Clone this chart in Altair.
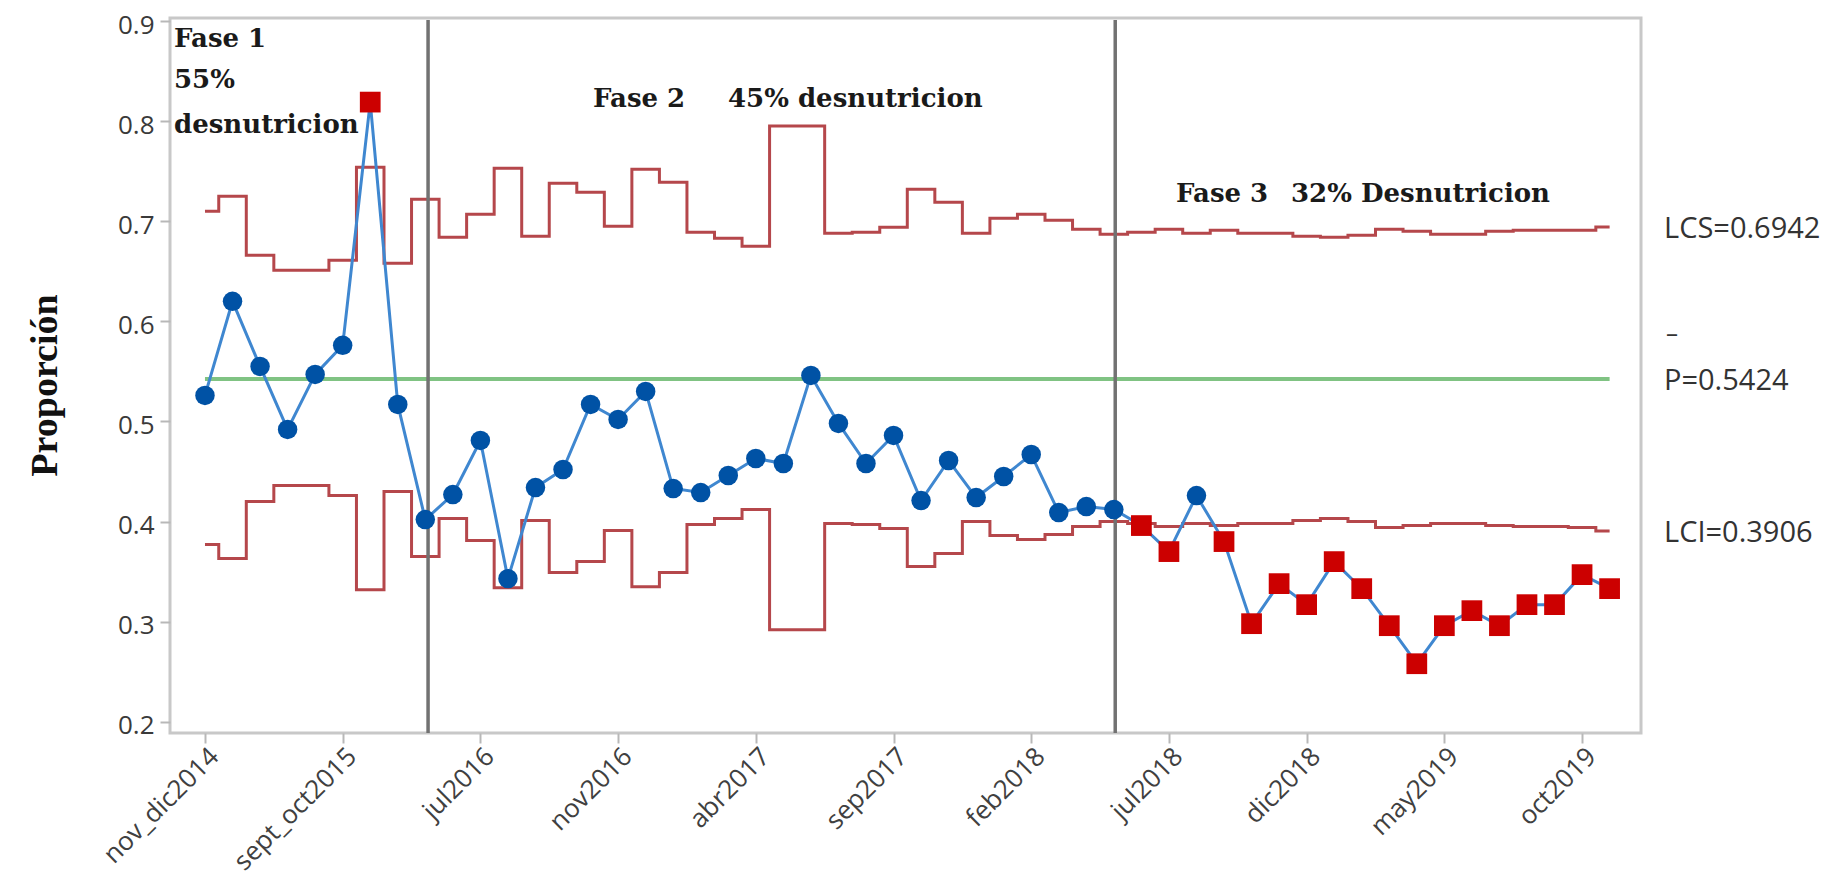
import altair as alt
import pandas as pd

# ---------------- data ----------------
indice = list(range(52))
proporcion = [0.526, 0.620, 0.555, 0.492, 0.547, 0.576, 0.819, 0.517, 0.402, 0.427,
              0.481, 0.343, 0.434, 0.452, 0.517, 0.502, 0.530, 0.433, 0.429, 0.446,
              0.463, 0.458, 0.546, 0.498, 0.458, 0.486, 0.421, 0.461, 0.424, 0.445,
              0.467, 0.409, 0.415, 0.412, 0.396, 0.370, 0.426, 0.380, 0.298, 0.338,
              0.317, 0.360, 0.333, 0.296, 0.258, 0.296, 0.311, 0.296, 0.317, 0.317,
              0.347, 0.333]
lcs = [0.710, 0.725, 0.666, 0.651, 0.651, 0.661, 0.754, 0.658, 0.722, 0.684,
       0.707, 0.753, 0.685, 0.738, 0.729, 0.695, 0.752, 0.739, 0.689, 0.683,
       0.675, 0.795, 0.795, 0.688, 0.689, 0.694, 0.732, 0.719, 0.688, 0.703,
       0.707, 0.701, 0.692, 0.687, 0.689, 0.692, 0.688, 0.691, 0.688, 0.688,
       0.685, 0.684, 0.686, 0.692, 0.690, 0.687, 0.687, 0.690, 0.691, 0.691,
       0.691, 0.6942]
lci = [0.377, 0.363, 0.420, 0.436, 0.436, 0.426, 0.332, 0.430, 0.365, 0.403,
       0.381, 0.334, 0.401, 0.349, 0.360, 0.391, 0.335, 0.349, 0.397, 0.403,
       0.412, 0.292, 0.292, 0.398, 0.397, 0.393, 0.355, 0.368, 0.400, 0.386,
       0.382, 0.387, 0.395, 0.400, 0.398, 0.395, 0.398, 0.396, 0.398, 0.398,
       0.401, 0.403, 0.400, 0.394, 0.396, 0.398, 0.398, 0.396, 0.395, 0.395,
       0.394, 0.3906]
fuera_de_control = [6, 34, 35, 37, 38, 39, 40, 41, 42, 43, 44, 45, 46, 47, 48, 49, 50, 51]
p_bar = 0.5424
cambios_fase = [8.1, 33.05]
tick_pos = [0, 5, 10, 15, 20, 25, 30, 35, 40, 45, 50]
tick_labels = ["nov_dic2014", "sept_oct2015", "jul2016", "nov2016", "abr2017",
               "sep2017", "feb2018", "jul2018", "dic2018", "may2019", "oct2019"]
y_ticks = [0.2, 0.3, 0.4, 0.5, 0.6, 0.7, 0.8, 0.9]

# ---------------- tables ----------------
df = pd.DataFrame({
    "i": indice,
    "p": proporcion,
    "lcs": lcs,
    "lci": lci,
    "fuera": [k in fuera_de_control for k in indice],
})
centro = pd.DataFrame({"x0": [indice[0]], "x1": [indice[-1]], "p": [p_bar]})
fases = pd.DataFrame({"x": cambios_fase, "top": [0.901, 0.901], "bot": [0.1888, 0.1888]})

X_DOM = [-1.27, 52.14]
Y_DOM = [0.1888, 0.9030]

label_js = "[" + ",".join("'%s'" % t for t in tick_labels) + "][round(datum.value/5)]"

xenc = alt.X("i:Q", scale=alt.Scale(domain=X_DOM, nice=False, zero=False),
             axis=alt.Axis(values=tick_pos, labelExpr=label_js, title=None, grid=False,
                           domain=False, ticks=True, tickSize=10, tickWidth=2,
                           tickColor="#b8b8b8", labelAngle=315, labelAlign="right",
                           labelBaseline="top", labelPadding=0, labelFontSize=26,
                           labelFont="Open Sans", labelColor="#404040",
                           labelOverlap=False, labelFlush=False))
yscale = alt.Scale(domain=Y_DOM, nice=False, zero=False)
yaxis = alt.Axis(values=y_ticks, format=".1f", title="Proporción", grid=False,
                 domain=False, tickSize=10, tickWidth=2, tickColor="#b8b8b8",
                 labelFontSize=26, labelFont="Open Sans", labelColor="#3a3a3a",
                 labelPadding=6, labelOffset=4, labelOverlap=False, labelFlush=False,
                 titleFont="Liberation Serif", titleFontWeight="bold",
                 titleFontSize=38, titleColor="#111111", titleX=-125, titleY=367,
                 titleAlign="center", titleBaseline="middle", titleAngle=270)

base = alt.Chart(df)

lim_sup = base.mark_line(interpolate="step", color="#B5474B", strokeWidth=3).encode(
    x=xenc, y=alt.Y("lcs:Q", scale=yscale, axis=yaxis))
lim_inf = base.mark_line(interpolate="step", color="#B5474B", strokeWidth=3).encode(
    x="i:Q", y="lci:Q")

linea_c = alt.Chart(centro).mark_rule(color="#80C383", strokeWidth=4).encode(
    x="x0:Q", x2="x1:Q", y="p:Q")

lineas_fase = alt.Chart(fases).mark_rule(color="#727272", strokeWidth=3.5).encode(
    x="x:Q", y="top:Q", y2="bot:Q")

serie = base.mark_line(color="#3F87D0", strokeWidth=3).encode(x="i:Q", y="p:Q")

puntos_ok = base.transform_filter("!datum.fuera").mark_point(
    shape="circle", filled=True, size=380, color="#0052A5", opacity=1).encode(
    x="i:Q", y="p:Q")
puntos_mal = base.transform_filter("datum.fuera").mark_point(
    shape="square", filled=True, size=430, color="#CC0000", opacity=1).encode(
    x="i:Q", y="p:Q")

one = pd.DataFrame({"k": [0]})


def texto(t, px, py, font="DejaVu Serif", size=26, weight="bold", color="#1a1a1a"):
    return alt.Chart(one).mark_text(text=t, align="left", baseline="alphabetic",
                                    font=font, fontSize=size, fontWeight=weight,
                                    color=color).encode(x=alt.value(px), y=alt.value(py))


anotaciones = [
    texto("Fase 1", 4, 29),
    texto("55%", 4, 70),
    texto("desnutricion", 4, 115),
    texto("Fase 2", 423, 89),
    texto("45% desnutricion", 558, 89),
    texto("Fase 3", 1006, 184),
    texto("32% Desnutricion", 1121, 184),
    texto("LCS=0.6942", 1494, 220, font="Open Sans", size=29, weight="normal", color="#333333"),
    texto("–", 1496, 324, font="Open Sans", size=24, weight="normal", color="#333333"),
    texto("P=0.5424", 1494, 372, font="Open Sans", size=29, weight="normal", color="#333333"),
    texto("LCI=0.3906", 1494, 524, font="Open Sans", size=29, weight="normal", color="#333333"),
]

chart = alt.layer(lim_sup, lim_inf, linea_c, lineas_fase, serie, puntos_ok, puntos_mal,
                  *anotaciones).properties(
    width=1471, height=715,
    autosize=alt.AutoSizeParams(type="none"),
    padding={"left": 162, "top": 10, "right": 183, "bottom": 146},
    background="white",
).configure_view(stroke="#c8c8c8", strokeWidth=3)

chart.save("out.html", embed_options={"renderer": "svg", "actions": False})
